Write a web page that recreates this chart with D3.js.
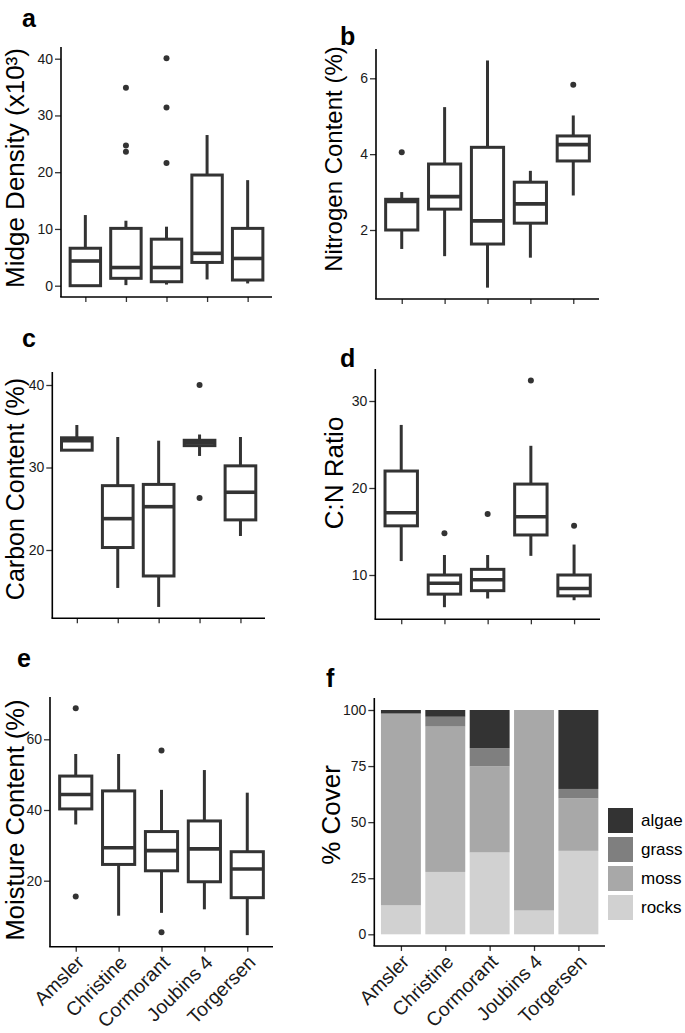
<!DOCTYPE html>
<html>
<head>
<meta charset="utf-8">
<script src="https://cdn.jsdelivr.net/npm/d3@7"></script>
<style>
  body { margin: 0; background: #fff; }
  text { font-family: "Liberation Sans", Arial, Helvetica, sans-serif; }
</style>
</head>
<body>
<svg id="fig" width="685" height="1033"></svg>
<script>
const sites = ['Amsler', 'Christine', 'Cormorant', 'Joubins 4', 'Torgersen'];

// each box: [lower whisker, Q1, median, Q3, upper whisker]
const midgeBoxes = [
  [0, 0, 4.35, 6.6, 12.45],
  [0.1, 1.3, 3.2, 10.1, 11.45],
  [0.2, 0.7, 3.2, 8.2, 10.4],
  [1.1, 4.1, 5.7, 19.5, 26.55],
  [0.4, 1.0, 4.8, 10.1, 18.6],
];
const midgeOutliers = [[], [34.9, 24.7, 23.6], [40.1, 31.4, 21.6], [], []];
const midgeTicks = [0, 10, 20, 30, 40];

const nitrogenBoxes = [
  [1.5, 2.0, 2.75, 2.81, 3.0],
  [1.31, 2.55, 2.88, 3.74, 5.24],
  [0.48, 1.63, 2.24, 4.18, 6.47],
  [1.27, 2.18, 2.69, 3.26, 3.56],
  [2.91, 3.82, 4.25, 4.48, 5.02],
];
const nitrogenOutliers = [[4.05], [], [], [], [5.83]];
const nitrogenTicks = [2, 4, 6];

const carbonBoxes = [
  [32.1, 32.1, 33.25, 33.6, 35.15],
  [15.4, 20.3, 23.8, 27.8, 33.7],
  [13.1, 16.85, 25.25, 27.95, 33.25],
  [31.4, 32.65, 33.0, 33.3, 34.0],
  [21.7, 23.65, 27.0, 30.2, 33.7],
];
const carbonOutliers = [[], [], [], [40.0, 26.3], []];
const carbonTicks = [20, 30, 40];

const cnBoxes = [
  [11.6, 15.65, 17.15, 21.95, 27.25],
  [6.3, 7.8, 9.05, 10.0, 12.3],
  [7.3, 8.2, 9.45, 10.65, 12.3],
  [12.2, 14.6, 16.7, 20.45, 24.85],
  [7.1, 7.6, 8.45, 10.0, 13.5],
];
const cnOutliers = [[], [14.8], [17.0], [32.35], [15.65]];
const cnTicks = [10, 20, 30];

const moistureBoxes = [
  [35.9, 40.3, 44.4, 49.6, 55.85],
  [10.1, 24.6, 29.3, 45.4, 55.85],
  [10.9, 22.8, 28.5, 33.9, 45.7],
  [11.9, 19.7, 29.0, 36.9, 51.3],
  [4.6, 15.2, 23.3, 28.2, 44.9],
];
const moistureOutliers = [[68.8, 15.5], [], [56.8, 5.4], [], []];
const moistureTicks = [20, 40, 60];

// % cover, stacked bottom to top
const coverKeys = ['rocks', 'moss', 'grass', 'algae'];
const rocks = [12.9, 27.8, 36.5, 10.6, 37.2];
const moss = [85.3, 64.8, 38.4, 89.4, 23.4];
const grass = [0.3, 4.4, 8.1, 0, 4.2];
const algae = [1.5, 3.0, 17.0, 0, 35.2];
const coverTicks = [0, 25, 50, 75, 100];
const legendLabels = ['algae', 'grass', 'moss', 'rocks'];

const ink = '#333333';
const svg = d3.select('#fig');
svg.append('rect').attr('width', 685).attr('height', 1033).attr('fill', '#fff');

function frame(p, x, y, ticks) {
  const g = svg.append('g');

  const yAx = g.append('g')
    .attr('transform', `translate(${p.x0},0)`)
    .call(d3.axisLeft(y).tickValues(ticks).tickFormat(d3.format('d')).tickSize(6).tickPadding(2));
  yAx.select('.domain').remove();
  yAx.selectAll('line').attr('stroke', ink).attr('stroke-width', 1.3);
  yAx.selectAll('text').attr('font-size', 14).attr('fill', '#1a1a1a')
    .attr('font-family', '"Liberation Sans", Arial, sans-serif');

  const xAx = g.append('g')
    .attr('transform', `translate(0,${p.bottom})`)
    .call(d3.axisBottom(x).tickSize(5));
  xAx.select('.domain').remove();
  xAx.selectAll('line').attr('stroke', ink).attr('stroke-width', 1.3);
  if (p.labels) {
    xAx.selectAll('text')
      .attr('font-size', 19.5).attr('fill', '#1a1a1a')
      .attr('font-family', '"Liberation Sans", Arial, sans-serif')
      .attr('text-anchor', 'end')
      .attr('y', 0).attr('dy', 0)
      .attr('transform', 'translate(9,17) rotate(-45)');
  } else {
    xAx.selectAll('text').remove();
  }

  g.append('line').attr('x1', p.x0).attr('x2', p.x0).attr('y1', p.top).attr('y2', p.bottom)
    .attr('stroke', '#000').attr('stroke-width', 1.6);
  g.append('line').attr('x1', p.x0 - 0.8).attr('x2', p.x1).attr('y1', p.bottom).attr('y2', p.bottom)
    .attr('stroke', '#000').attr('stroke-width', 1.6);

  g.append('text')
    .attr('transform', `translate(${p.titleX},${p.titleY}) rotate(-90)`)
    .attr('text-anchor', 'middle')
    .attr('font-size', p.titleSize)
    .attr('fill', '#000')
    .text(p.title);

  g.append('text')
    .attr('x', p.letterPos[0]).attr('y', p.letterPos[1])
    .attr('font-size', 25).attr('font-weight', 'bold')
    .attr('fill', '#000')
    .text(p.letter);
  return g;
}

function boxPanel(p) {
  const x = d3.scalePoint().domain(sites).range([p.x0, p.x1]).padding(0.6);
  const y = d3.scaleLinear().domain(p.dom).range(p.rng);
  const bw = x.step() * 0.75;
  const g = frame(p, x, y, p.ticks);

  const rows = sites.map((s, i) => ({ site: s, b: p.boxes[i], out: p.outliers[i] }));
  const box = g.append('g').selectAll('g').data(rows).join('g');

  box.append('line')
    .attr('x1', (d) => x(d.site)).attr('x2', (d) => x(d.site))
    .attr('y1', (d) => y(d.b[0])).attr('y2', (d) => y(d.b[1]))
    .attr('stroke', ink).attr('stroke-width', 3);
  box.append('line')
    .attr('x1', (d) => x(d.site)).attr('x2', (d) => x(d.site))
    .attr('y1', (d) => y(d.b[3])).attr('y2', (d) => y(d.b[4]))
    .attr('stroke', ink).attr('stroke-width', 3);
  box.append('rect')
    .attr('x', (d) => x(d.site) - bw / 2)
    .attr('width', bw)
    .attr('y', (d) => y(d.b[3]))
    .attr('height', (d) => y(d.b[1]) - y(d.b[3]))
    .attr('fill', '#fff').attr('stroke', ink).attr('stroke-width', 3);
  box.append('line')
    .attr('x1', (d) => x(d.site) - bw / 2).attr('x2', (d) => x(d.site) + bw / 2)
    .attr('y1', (d) => y(d.b[2])).attr('y2', (d) => y(d.b[2]))
    .attr('stroke', ink).attr('stroke-width', 3.6);
  box.selectAll('circle')
    .data((d) => d.out.map((v) => ({ site: d.site, v })))
    .join('circle')
    .attr('cx', (d) => x(d.site)).attr('cy', (d) => y(d.v))
    .attr('r', 3).attr('fill', ink);
}

boxPanel({
  letter: 'a', letterPos: [22, 27], title: 'Midge Density (x10³)', titleX: 24, titleY: 168, titleSize: 26,
  boxes: midgeBoxes, outliers: midgeOutliers, ticks: midgeTicks,
  x0: 61, x1: 272, top: 47, bottom: 297, dom: [0, 40], rng: [285.7, 58.7], labels: false,
});
boxPanel({
  letter: 'b', letterPos: [340, 45], title: 'Nitrogen Content (%)', titleX: 342, titleY: 159, titleSize: 24,
  boxes: nitrogenBoxes, outliers: nitrogenOutliers, ticks: nitrogenTicks,
  x0: 376, x1: 599, top: 49, bottom: 299, dom: [2, 6], rng: [230, 78.3], labels: false,
});
boxPanel({
  letter: 'c', letterPos: [22, 347], title: 'Carbon Content (%)', titleX: 23.5, titleY: 489, titleSize: 25,
  boxes: carbonBoxes, outliers: carbonOutliers, ticks: carbonTicks,
  x0: 52.3, x1: 265, top: 372, bottom: 618.3, dom: [20, 40], rng: [550, 385], labels: false,
});
boxPanel({
  letter: 'd', letterPos: [340, 367], title: 'C:N Ratio', titleX: 343, titleY: 473, titleSize: 26,
  boxes: cnBoxes, outliers: cnOutliers, ticks: cnTicks,
  x0: 375.3, x1: 600, top: 369, bottom: 619.3, dom: [10, 30], rng: [575, 401], labels: false,
});
boxPanel({
  letter: 'e', letterPos: [17, 667], title: 'Moisture Content (%)', titleX: 23.5, titleY: 820, titleSize: 25.5,
  boxes: moistureBoxes, outliers: moistureOutliers, ticks: moistureTicks,
  x0: 50, x1: 273, top: 697, bottom: 946.7, dom: [20, 60], rng: [880.7, 739.3], labels: true,
});

// panel f: stacked cover bars
(function coverPanel() {
  const p = {
    letter: 'f', letterPos: [326, 687], title: '% Cover', titleX: 340, titleY: 815, titleSize: 26,
    x0: 374.3, x1: 605, top: 698, bottom: 946, labels: true,
  };
  const x = d3.scalePoint().domain(sites).range([p.x0, p.x1]).padding(0.6);
  const y = d3.scaleLinear().domain([0, 100]).range([934.3, 710]);
  const bw = x.step() * 0.9;
  const color = d3.scaleOrdinal().domain(coverKeys).range(['#d1d1d1', '#a8a8a8', '#7f7f7f', '#333333']);
  const g = frame(p, x, y, coverTicks);

  const table = sites.map((s, i) => ({
    site: s, rocks: rocks[i], moss: moss[i], grass: grass[i], algae: algae[i],
  }));
  const series = d3.stack().keys(coverKeys)(table);

  g.append('g').selectAll('g').data(series).join('g')
    .attr('fill', (d) => color(d.key))
    .selectAll('rect')
    .data((d) => d)
    .join('rect')
    .attr('x', (d) => x(d.data.site) - bw / 2)
    .attr('width', bw)
    .attr('y', (d) => y(d[1]))
    .attr('height', (d) => y(d[0]) - y(d[1]));

  const leg = g.append('g').attr('transform', 'translate(608,808)');
  const item = leg.selectAll('g').data(legendLabels).join('g')
    .attr('transform', (d, i) => `translate(0,${i * 29})`);
  item.append('rect').attr('width', 25).attr('height', 25).attr('fill', (d) => color(d));
  item.append('text')
    .attr('x', 33).attr('y', 12.5).attr('dy', '0.35em')
    .attr('font-size', 17).attr('fill', '#000')
    .text((d) => d);
})();
</script>
</body>
</html>
